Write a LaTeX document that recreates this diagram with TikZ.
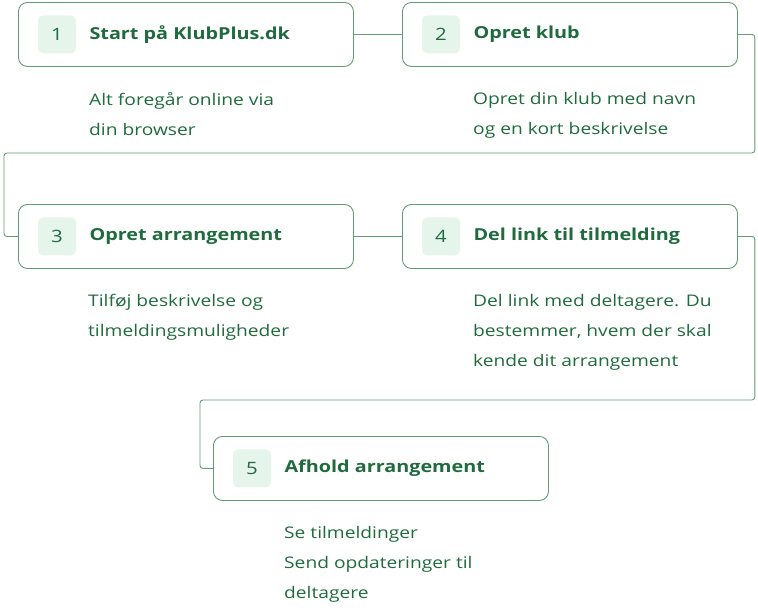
\documentclass[tikz,border=0pt]{standalone}
\usepackage{fontspec}
\setmainfont{Open Sans}[FakeStretch=1.2]
\definecolor{tg}{HTML}{1F6B3D}
\definecolor{bd}{HTML}{5E9E72}
\definecolor{mint}{HTML}{E6F5EC}
\begin{document}
\begin{tikzpicture}[x=1pt,y=-1pt,
  stepbox/.style={draw=bd,line width=0.9pt,rounded corners=9pt,minimum width=335pt,minimum height=64pt,anchor=north west,inner sep=0pt},
  numbox/.style={fill=mint,rounded corners=5pt,minimum size=38pt,inner sep=0pt,text=tg,font=\fontsize{17}{20}\selectfont},
  ttl/.style={anchor=west,text=tg,font=\fontsize{16.5}{20}\selectfont\bfseries},
  desc/.style={anchor=north west,text=tg,font=\fontsize{16}{30}\selectfont,align=left,inner sep=0pt},
  conn/.style={draw=bd,line width=0.9pt,rounded corners=3pt}]
\useasboundingbox (0,0) rectangle (758,613);
\node[stepbox] (b1) at (18,2) {};
\node[stepbox] (b2) at (402,2) {};
\node[stepbox] (b3) at (18,204) {};
\node[stepbox] (b4) at (402,204) {};
\node[stepbox] (b5) at (213,436) {};
\foreach \b/\n/\t in {b1/1/Start på KlubPlus.dk, b2/2/Opret klub, b3/3/Opret arrangement, b4/4/Del link til tilmelding, b5/5/Afhold arrangement}{
  \node[numbox] (n\n) at ([xshift=39pt]\b.west) {\n};
  \node[ttl] (t\n) at ([xshift=68pt]\b.west) {\t};
}
\node[desc] (d1) at (89,92) {Alt foregår online via\\din browser};
\node[desc] (d2) at (473,92) {Opret din klub med navn\\og en kort beskrivelse};
\node[desc] (d3) at (88,294) {Tilføj beskrivelse og\\tilmeldingsmuligheder};
\node[desc] (d4) at (473,294) {Del link med deltagere. Du\\bestemmer, hvem der skal\\kende dit arrangement};
\node[desc] (d5) at (284,526) {Se tilmeldinger\\Send opdateringer til\\deltagere};
\draw[conn] (b1.east) -- (b2.west);
\draw[conn] (b3.east) -- (b4.west);
\draw[conn] (b2.east) -- ++(17,0) |- (4,153) |- (b3.west);
\draw[conn] (b4.east) -- ++(17,0) |- (200,400) |- (b5.west);
\end{tikzpicture}
\end{document}
